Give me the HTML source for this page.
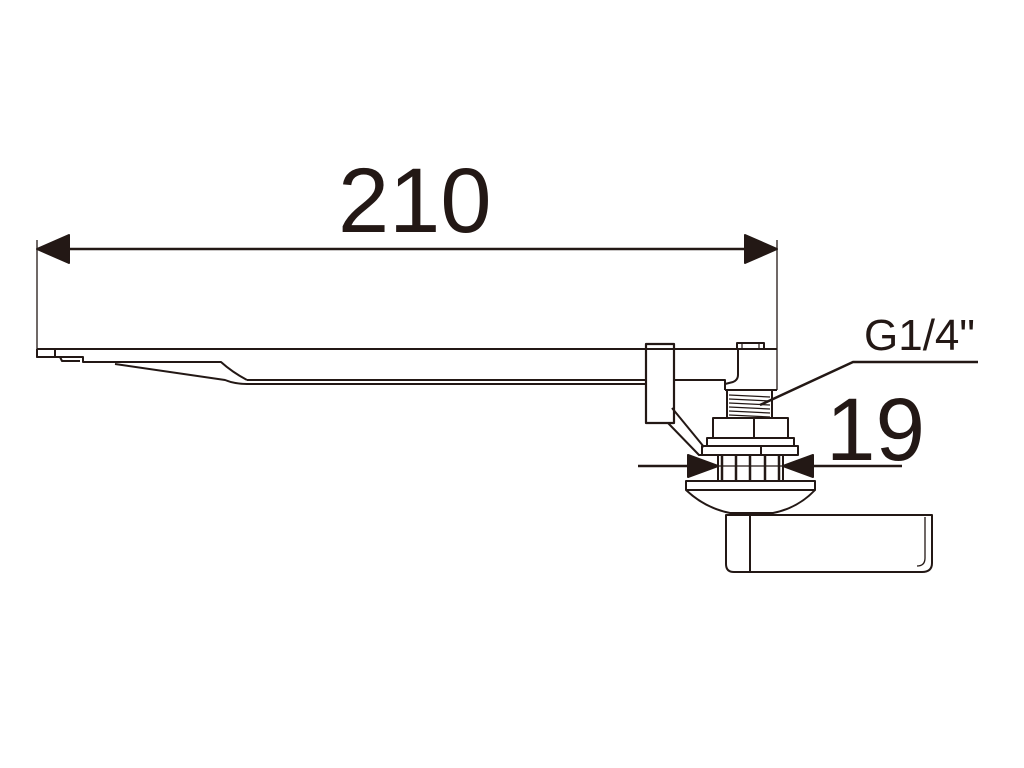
<!DOCTYPE html>
<html><head><style>html,body{margin:0;padding:0;background:#fff}svg{display:block}</style></head>
<body>
<svg width="1024" height="768" viewBox="0 0 1024 768" xmlns="http://www.w3.org/2000/svg">
<g fill="none" stroke="#231815" stroke-width="2" stroke-linejoin="round">
<line x1="37" y1="240" x2="37" y2="358" stroke-width="1.3"/>
<line x1="777" y1="240" x2="777" y2="390" stroke-width="1.3"/>
<line x1="60" y1="249" x2="755" y2="249" stroke-width="2.5"/>
<polygon points="37,249 69,235 69,263" fill="#231815"/>
<polygon points="777,249 745,235 745,263" fill="#231815"/>
<path d="M37,349 L738,349"/>
<path d="M37,349 L37,357 L55,357 L55,349"/>
<path d="M55,357 L83,357 L83,362 L221,362 Q232,372 247,380"/>
<path d="M60,357 L62,361 L80,361"/>
<path d="M115,364 L225,380 Q235,384 247,384"/>
<path d="M247,380 L646,380"/>
<path d="M247,384 L646,384"/>
<path d="M674,380 L725,380 L725,390"/>
<path d="M674,349 L777,349"/>
<path d="M738,349 L738,375 Q738,380 733,382 L725,384"/>
<path d="M725,390 L777,390"/>
<rect x="737" y="343" width="27" height="6"/>
<line x1="742" y1="344" x2="742" y2="348" stroke-width="1.2"/>
<line x1="759" y1="344" x2="759" y2="348" stroke-width="1.2"/>
<rect x="646" y="344" width="28" height="79" stroke-width="2.2"/>
<path d="M672,408 L704,447" />
<path d="M668,423 L699,455 L706,455"/>
<rect x="727" y="390" width="45" height="28"/>
<g stroke-width="1.2">
<line x1="729" y1="395" x2="770" y2="397"/><line x1="729" y1="399" x2="770" y2="401"/>
<line x1="729" y1="403" x2="770" y2="405"/><line x1="729" y1="407" x2="770" y2="409"/>
<line x1="729" y1="411" x2="770" y2="413"/><line x1="729" y1="415" x2="770" y2="417"/>
</g>
<rect x="713" y="418" width="75" height="20"/>
<line x1="754" y1="418" x2="754" y2="438"/>
<rect x="707" y="438" width="87" height="8"/>
<rect x="702" y="446" width="96" height="9"/>
<line x1="761" y1="446" x2="761" y2="455"/>
<rect x="718" y="455" width="65" height="26"/>
<g stroke-width="2.5">
<line x1="722" y1="455" x2="722" y2="481"/><line x1="736" y1="455" x2="736" y2="481"/>
<line x1="750" y1="455" x2="750" y2="481"/><line x1="765" y1="455" x2="765" y2="481"/>
<line x1="779" y1="455" x2="779" y2="481"/>
</g>
<line x1="718" y1="466" x2="783" y2="466" stroke-width="1.2"/>
<line x1="638" y1="466" x2="700" y2="466" stroke-width="2.5"/>
<line x1="800" y1="466" x2="902" y2="466" stroke-width="2.5"/>
<polygon points="718,466 688,455 688,477" fill="#231815"/>
<polygon points="783,466 813,455 813,477" fill="#231815"/>
<rect x="686" y="481" width="129" height="9"/>
<path d="M686,490 Q705,508 730,513 L773,513 Q798,508 815,490"/>
<path d="M726,515 L932,515 L932,563 Q932,572 922,572 L734,572 Q726,572 726,564 Z"/>
<line x1="750" y1="516" x2="750" y2="572"/>
<path d="M925,517 L925,558 Q925,566 917,566" stroke-width="1.3"/>
<path d="M760,405 L853,362 L978,362" stroke-width="2.5"/>
</g>
<g font-family="'Liberation Sans',Arial,sans-serif" fill="#231815">
<text x="338" y="232" font-size="92">210</text>
<text x="826" y="460" font-size="89">19</text>
<text x="864" y="350" font-size="44">G1/4"</text>
</g>
</svg>
</body></html>
